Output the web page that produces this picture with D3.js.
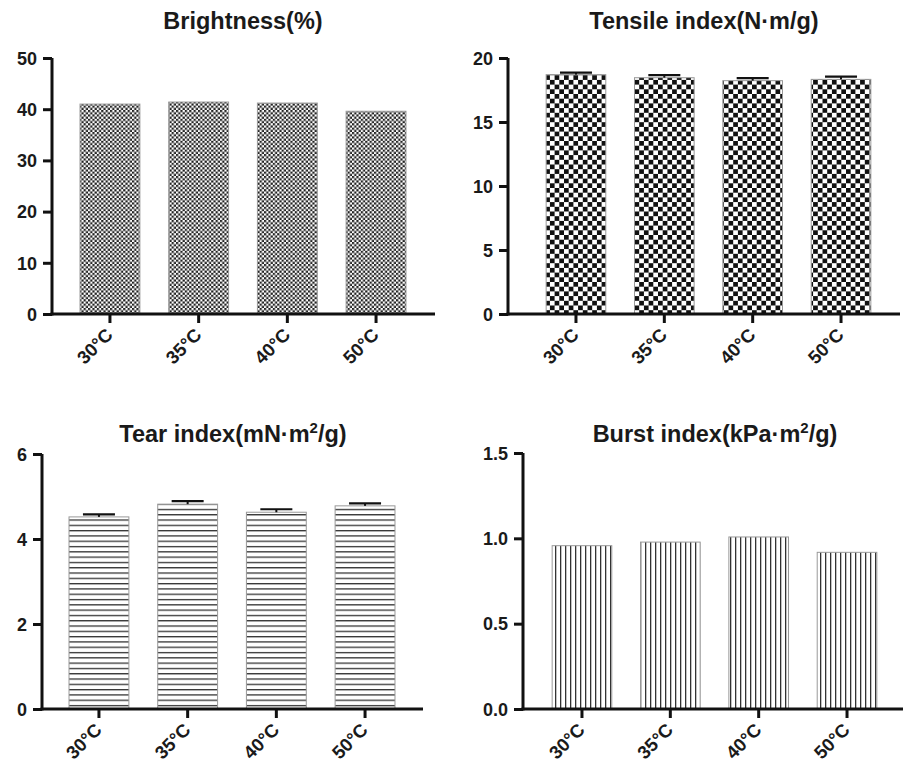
<!DOCTYPE html>
<html><head><meta charset="utf-8">
<script src="https://cdn.jsdelivr.net/npm/d3@7"></script>
<style>body{margin:0;background:#fff}svg{display:block}text{font-family:"Liberation Sans",Arial,sans-serif;font-weight:bold;fill:#1a1a1a}</style>
</head><body><svg id="c" width="905" height="768"></svg>
<script>
const categories = ["30°C","35°C","40°C","50°C"];
const brightness = [41.0, 41.4, 41.2, 39.6];
const tensile = [18.7, 18.46, 18.23, 18.33];
const tensileErr = [0.15, 0.2, 0.2, 0.22];
const tear = [4.52, 4.82, 4.63, 4.78];
const tearErr = [0.06, 0.07, 0.07, 0.06];
const burst = [0.957, 0.978, 1.008, 0.918];
const brightnessTicks = [0,10,20,30,40,50];
const tensileTicks = [0,5,10,15,20];
const tearTicks = [0,2,4,6];
const burstTicks = [0,0.5,1.0,1.5];

const svg = d3.select("#c");
const defs = svg.append("defs");
// fine checker
let p = defs.append("pattern").attr("id","chkFine").attr("patternUnits","userSpaceOnUse").attr("width",4.4).attr("height",4.4);
p.append("rect").attr("width",4.4).attr("height",4.4).attr("fill","#fff");
p.append("rect").attr("width",2.2).attr("height",2.2).attr("fill","#222");
p.append("rect").attr("x",2.2).attr("y",2.2).attr("width",2.2).attr("height",2.2).attr("fill","#222");
// coarse checker
p = defs.append("pattern").attr("id","chkCoarse").attr("patternUnits","userSpaceOnUse").attr("width",9.4).attr("height",9.4);
p.append("rect").attr("width",9.4).attr("height",9.4).attr("fill","#fff");
p.append("rect").attr("width",4.7).attr("height",4.7).attr("fill","#111");
p.append("rect").attr("x",4.7).attr("y",4.7).attr("width",4.7).attr("height",4.7).attr("fill","#111");
// horizontal stripes
p = defs.append("pattern").attr("id","hstripe").attr("patternUnits","userSpaceOnUse").attr("width",10).attr("height",5.3);
p.append("rect").attr("width",10).attr("height",5.3).attr("fill","#fff");
p.append("rect").attr("y",0).attr("width",10).attr("height",1.3).attr("fill","#333");
// vertical stripes
p = defs.append("pattern").attr("id","vstripe").attr("patternUnits","userSpaceOnUse").attr("width",5).attr("height",10);
p.append("rect").attr("width",5).attr("height",10).attr("fill","#fff");
p.append("rect").attr("x",0).attr("width",1.3).attr("height",10).attr("fill","#333");

const panels = [
  {title:[["Brightness(%)"]], vals:brightness, err:null, ticks:brightnessTicks, max:50, fmt:d3.format("d"), fill:"url(#chkFine)",
   ax:52, axEnd:435, x0:65.6, x1:420.4, y0:314, y1:58, tx:243, ty:29},
  {title:[["Tensile index(N·m/g)"]], vals:tensile, err:tensileErr, ticks:tensileTicks, max:20, fmt:d3.format("d"), fill:"url(#chkCoarse)",
   ax:508, axEnd:900, x0:531.8, x1:885.2, y0:314, y1:58, tx:704, ty:29},
  {title:[["Tear index(mN·m"],["2","sup"],["/g)"]], vals:tear, err:tearErr, ticks:tearTicks, max:6, fmt:d3.format("d"), fill:"url(#hstripe)",
   ax:42, axEnd:423, x0:54.6, x1:409.4, y0:709, y1:454, tx:233, ty:442},
  {title:[["Burst index(kPa·m"],["2","sup"],["/g)"]], vals:burst, err:null, ticks:burstTicks, max:1.5, fmt:d3.format(".1f"), fill:"url(#vstripe)",
   ax:523, axEnd:903, x0:537.8, x1:891.2, y0:709, y1:453, tx:715, ty:442}
];

panels.forEach(P => {
  const g = svg.append("g");
  const x = d3.scaleBand().domain(categories).range([P.x0, P.x1]).paddingInner(0.325).paddingOuter(0.1625);
  const y = d3.scaleLinear().domain([0, P.max]).range([P.y0, P.y1]);
  g.selectAll("rect.bar").data(P.vals).join("rect").attr("class","bar")
    .attr("x",(d,i)=>x(categories[i])).attr("width",x.bandwidth())
    .attr("y",d=>y(d)).attr("height",d=>y(0)-y(d))
    .attr("fill",P.fill).attr("stroke","#999").attr("stroke-width",1);
  if (P.err) {
    P.vals.forEach((v,i)=>{
      const cx = x(categories[i]) + x.bandwidth()/2;
      g.append("line").attr("x1",cx).attr("x2",cx).attr("y1",y(v)).attr("y2",y(v+P.err[i])).attr("stroke","#111").attr("stroke-width",2);
      g.append("line").attr("x1",cx-16).attr("x2",cx+16).attr("y1",y(v+P.err[i])).attr("y2",y(v+P.err[i])).attr("stroke","#111").attr("stroke-width",2.2);
    });
  }
  const ya = g.append("g").attr("transform",`translate(${P.ax},0)`)
    .call(d3.axisLeft(y).tickValues(P.ticks).tickFormat(P.fmt).tickSize(9).tickPadding(6));
  ya.select(".domain").attr("stroke","#111").attr("stroke-width",3).attr("d",`M0,${P.y0+1.5}V${P.y1}`);
  ya.selectAll(".tick line").attr("stroke","#111").attr("stroke-width",3);
  ya.selectAll(".tick text").attr("font-size",18).attr("font-weight","bold").attr("fill","#1a1a1a")
    .attr("font-family","Liberation Sans, Arial, sans-serif").attr("dy","0.35em");
  const xa = g.append("g").attr("transform",`translate(0,${P.y0})`)
    .call(d3.axisBottom(x).tickSize(9).tickPadding(4));
  xa.select(".domain").attr("stroke","#111").attr("stroke-width",3).attr("d",`M${P.ax-1.5},0H${P.axEnd}`);
  xa.selectAll(".tick line").attr("stroke","#111").attr("stroke-width",3);
  xa.selectAll(".tick text").attr("font-size",18.5).attr("font-weight","bold").attr("fill","#1a1a1a")
    .attr("font-family","Liberation Sans, Arial, sans-serif")
    .attr("text-anchor","end").attr("dy",null).attr("x",0).attr("y",0)
    .attr("transform","translate(4,22) rotate(-45)");
  const t = svg.append("text").attr("x",P.tx).attr("y",P.ty).attr("text-anchor","middle").attr("font-size",23.5);
  P.title.forEach(seg=>{
    const ts = t.append("tspan").text(seg[0]);
    if (seg[1]==="sup") ts.attr("font-size",15).attr("dy",-9);
    else if (t.selectAll("tspan").size()>1) ts.attr("dy",9);
  });
});
</script></body></html>
